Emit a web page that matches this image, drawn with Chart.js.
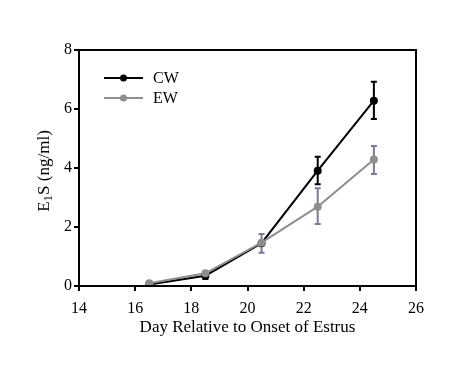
<!DOCTYPE html>
<html>
<head>
<meta charset="utf-8">
<script src="https://cdn.jsdelivr.net/npm/chart.js@4"></script>
<style>
  html, body { margin: 0; padding: 0; background: #fff; }
  #wrap { width: 467px; height: 369px; }
</style>
</head>
<body>
<div id="wrap"><canvas id="c" width="467" height="369"></canvas></div>
<script>
// Dados
const days = [16.5, 18.5, 20.5, 22.5, 24.5];
const cwValues = [0.05, 0.35, 1.45, 3.91, 6.28];
const cwErrHigh = [0.05, 0.35, 1.45, 4.38, 6.92];
const cwErrLow = [0.05, 0.24, 1.45, 3.45, 5.66];
const ewValues = [0.09, 0.43, 1.47, 2.69, 4.29];
const ewErrHigh = [0.09, 0.43, 1.76, 3.31, 4.75];
const ewErrLow = [0.09, 0.43, 1.13, 2.10, 3.80];
const xTicks = [14, 16, 18, 20, 22, 24, 26];
const yTicks = [0, 2, 4, 6, 8];

const serif = '"Liberation Serif", "Times New Roman", serif';

function toPoints(xs, ys) {
    return xs.map((x, i) => ({ x: x, y: ys[i] }));
}

// barras de erro, moldura, legenda e título do eixo y
const extras = {
    id: 'extras',
    beforeDatasetsDraw(chart) {
        const ctx = chart.ctx;
        const xs = chart.scales.x, ys = chart.scales.y;
        const bars = [
            { hi: cwErrHigh, lo: cwErrLow, color: '#000000' },
            { hi: ewErrHigh, lo: ewErrLow, color: '#7c7a96' }
        ];
        ctx.save();
        bars.forEach(b => {
            ctx.strokeStyle = b.color;
            ctx.lineWidth = 2;
            days.forEach((d, i) => {
                if (b.hi[i] - b.lo[i] < 0.05) return;
                const px = xs.getPixelForValue(d);
                const t = ys.getPixelForValue(b.hi[i]);
                const l = ys.getPixelForValue(b.lo[i]);
                ctx.beginPath();
                ctx.moveTo(px, t); ctx.lineTo(px, l);
                ctx.moveTo(px - 3, t); ctx.lineTo(px + 3, t);
                ctx.moveTo(px - 3, l); ctx.lineTo(px + 3, l);
                ctx.stroke();
            });
        });
        ctx.restore();
    },
    afterDraw(chart) {
        const ctx = chart.ctx;
        const a = chart.chartArea;
        ctx.save();
        ctx.strokeStyle = '#000';
        ctx.lineWidth = 2;
        ctx.strokeRect(a.left, a.top, a.right - a.left, a.bottom - a.top);

        // legenda
        chart.data.datasets.forEach((ds, i) => {
            const y = 78 + i * 20;
            ctx.strokeStyle = ds.borderColor;
            ctx.lineWidth = 2;
            ctx.beginPath();
            ctx.moveTo(104, y); ctx.lineTo(143, y);
            ctx.stroke();
            ctx.fillStyle = ds.pointBackgroundColor;
            ctx.beginPath();
            ctx.arc(123.5, y, 3.5, 0, Math.PI * 2);
            ctx.fill();
            ctx.fillStyle = '#000';
            ctx.font = '16px ' + serif;
            ctx.textBaseline = 'middle';
            ctx.fillText(ds.label, 153, y + 1);
        });

        // título do eixo y com subscrito
        ctx.translate(45, 171);
        ctx.rotate(-Math.PI / 2);
        ctx.fillStyle = '#000';
        ctx.textBaseline = 'middle';
        const f = '17px ' + serif, fs = '13px ' + serif;
        ctx.font = f; const w1 = ctx.measureText('E').width;
        ctx.font = fs; const w2 = ctx.measureText('1').width;
        ctx.font = f; const w3 = ctx.measureText('S (ng/ml)').width;
        let x0 = -(w1 + w2 + w3) / 2;
        ctx.font = f; ctx.fillText('E', x0, 0);
        ctx.font = fs; ctx.fillText('1', x0 + w1, 4);
        ctx.font = f; ctx.fillText('S (ng/ml)', x0 + w1 + w2, 0);
        ctx.restore();
    }
};

const ctx = document.getElementById('c').getContext('2d');
const chart = new Chart(ctx, {
    type: 'line',
    data: {
        datasets: [{
            label: 'CW',
            data: toPoints(days, cwValues),
            borderColor: '#000000',
            pointBackgroundColor: '#000000',
            pointBorderColor: '#000000',
            borderWidth: 2,
            pointRadius: 3,
            order: 1
        }, {
            label: 'EW',
            data: toPoints(days, ewValues),
            borderColor: '#8e8e8e',
            pointBackgroundColor: '#8e8e8e',
            pointBorderColor: '#8e8e8e',
            borderWidth: 2,
            pointRadius: 3,
            order: 0
        }]
    },
    options: {
        responsive: false,
        animation: false,
        layout: { padding: { left: 0, top: 50, right: 51, bottom: 31 } },
        plugins: { legend: { display: false }, tooltip: { enabled: false } },
        scales: {
            x: {
                type: 'linear',
                min: 14, max: 26,
                afterBuildTicks: s => { s.ticks = xTicks.map(v => ({ value: v })); },
                afterFit: s => { s.height = 52; },
                grid: { drawOnChartArea: false, tickLength: 5, color: '#000', lineWidth: 2 },
                border: { color: '#000', width: 2 },
                ticks: { color: '#000', font: { family: serif, size: 16 }, padding: 8, maxRotation: 0 },
                title: {
                    display: true,
                    text: 'Day Relative to Onset of Estrus',
                    color: '#000',
                    font: { family: serif, size: 17 },
                    padding: { top: 0, bottom: 0 }
                }
            },
            y: {
                type: 'linear',
                min: 0, max: 8,
                afterBuildTicks: s => { s.ticks = yTicks.map(v => ({ value: v })); },
                afterFit: s => { s.width = 79; },
                grid: { drawOnChartArea: false, tickLength: 5, color: '#000', lineWidth: 2 },
                border: { color: '#000', width: 2 },
                ticks: { color: '#000', font: { family: serif, size: 16 }, padding: 2 }
            }
        }
    },
    plugins: [extras]
});
</script>
</body>
</html>
